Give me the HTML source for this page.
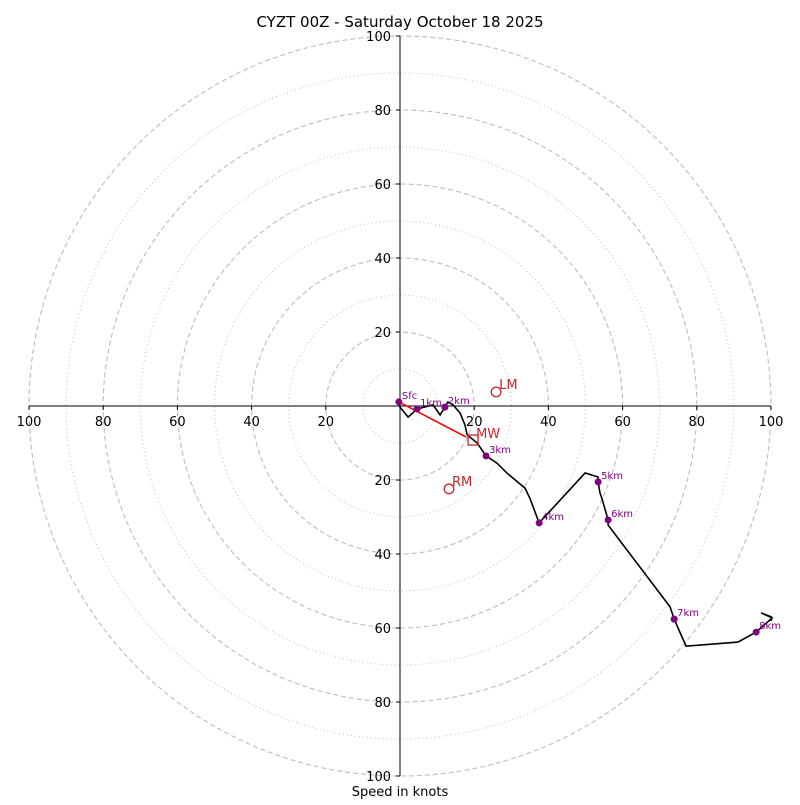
<!DOCTYPE html>
<html><head><meta charset="utf-8"><style>
body{margin:0;background:#fff}
svg{font-family:"DejaVu Sans","Liberation Sans",sans-serif}
</style></head><body>
<svg id="c" width="800" height="800">
<text x="400" y="27" text-anchor="middle" font-size="15">CYZT 00Z - Saturday October 18 2025</text>
<text x="400" y="796" text-anchor="middle" font-size="13">Speed in knots</text>
<g id="rings"></g><g id="axes"></g><g id="series"></g>
</svg>
<script>
const ringValues=[10,20,30,40,50,60,70,80,90,100];
const tickLabels=[20,40,60,80,100];
const hodoU=[-0.3,0,2.2,4.6,8.9,10.8,12.1,12.9,14.3,16.2,17.5,18.1,20.8,23.2,26.1,28.8,33.7,35.0,37.5,49.9,53.4,53.4,53.9,54.4,56.1,56.1,72.8,73.9,77.1,91.1,96.0,100.3,97.3,100.1,100.1];
const hodoV=[1.1,-0.3,-3.0,-0.8,0.3,-2.4,-0.3,1.1,0.3,-1.9,-5.1,-7.8,-10.0,-13.5,-15.4,-18.1,-22.2,-24.9,-31.6,-18.1,-19.2,-20.5,-23.5,-24.9,-30.8,-32.2,-54.3,-57.6,-64.9,-63.8,-61.1,-57.3,-55.9,-57.0,-58.1];
const markerLabels=["Sfc","1km","2km","3km","4km","5km","6km","7km","8km"];
const markerU=[-0.3,4.6,12.1,23.2,37.5,53.4,56.1,73.9,96.0];
const markerV=[1.1,-0.8,-0.3,-13.5,-31.6,-20.5,-30.8,-57.6,-61.1];
const motionLabels=["LM","RM"];
const motionU=[25.9,13.2];
const motionV=[3.8,-22.4];
const meanWindU=[19.7];const meanWindV=[-9.2];
const shearEndU=[17.8];const shearEndV=[-8.4];

const cx=400,cy=406,kx=3.71,ky=3.70;
const X=u=>cx+u*kx, Y=v=>cy-v*ky;
const NS="http://www.w3.org/2000/svg";
function mk(tag,parent,attrs){const e=document.createElementNS(NS,tag);for(const k in attrs)e.setAttribute(k,attrs[k]);document.getElementById(parent).appendChild(e);return e;}
ringValues.forEach(r=>{
 const e=mk('ellipse','rings',{cx:cx,cy:cy,rx:r*kx,ry:r*ky,fill:'none',stroke:'#bdbdbd','stroke-width':r%20===0?1.1:1,'stroke-dasharray':r%20===0?'5,3':'1,3'});
 
 
});
let l=mk('line','axes',{x1:X(-100),x2:X(100),y1:cy,y2:cy,stroke:'#000','stroke-width':1});


l=mk('line','axes',{x1:cx,x2:cx,y1:Y(100),y2:Y(-100),stroke:'#000','stroke-width':1});


tickLabels.forEach(t=>{
 [[X(t),cy+20,'middle'],[X(-t),cy+20,'middle'],[cx-9,Y(t)+5,'end'],[cx-9,Y(-t)+5,'end']].forEach((p,i)=>{
  const e=mk('text','axes',{x:p[0],y:p[1],'text-anchor':p[2],'font-size':13});e.textContent=t;
  
  
 });
 [[X(t),cy,X(t),cy+4],[X(-t),cy,X(-t),cy+4],[cx,Y(t),cx-4,Y(t)],[cx,Y(-t),cx-4,Y(-t)]].forEach(q=>{
  const e=mk('line','axes',{x1:q[0],y1:q[1],x2:q[2],y2:q[3],stroke:'#000'});
  
  
 });
});
let sh=mk('line','series',{x1:X(markerU[0]),y1:Y(markerV[0]),x2:X(shearEndU[0]),y2:Y(shearEndV[0]),stroke:'#f00','stroke-width':1.6});


let pts=hodoU.map((u,i)=>X(u)+','+Y(hodoV[i])).join(' ');
let pl=mk('polyline','series',{points:pts,fill:'none',stroke:'#000','stroke-width':1.6});


markerU.forEach((u,i)=>{
 const c=mk('circle','series',{cx:X(u),cy:Y(markerV[i]),r:3.5,fill:'#800080'});
 
 
 const t=mk('text','series',{x:X(u)+3,y:Y(markerV[i])-3,'font-size':10,fill:'#800080'});t.textContent=markerLabels[i];
 
 
});
motionU.forEach((u,i)=>{
 const c=mk('circle','series',{cx:X(u),cy:Y(motionV[i]),r:4.8,fill:'none',stroke:'#c0282d','stroke-width':1.3});
 
 
 const t=mk('text','series',{x:X(u)+3,y:Y(motionV[i])-3,'font-size':13,fill:'#c0282d'});t.textContent=motionLabels[i];
 
 
});
let sq=mk('rect','series',{x:X(meanWindU[0])-5,y:Y(meanWindV[0])-5,width:10,height:10,fill:'none',stroke:'#c0282d','stroke-width':1.3});


let mt=mk('text','series',{x:X(meanWindU[0])+3,y:Y(meanWindV[0])-2,'font-size':13,fill:'#c0282d'});mt.textContent='MW';


</script>
</body></html>
